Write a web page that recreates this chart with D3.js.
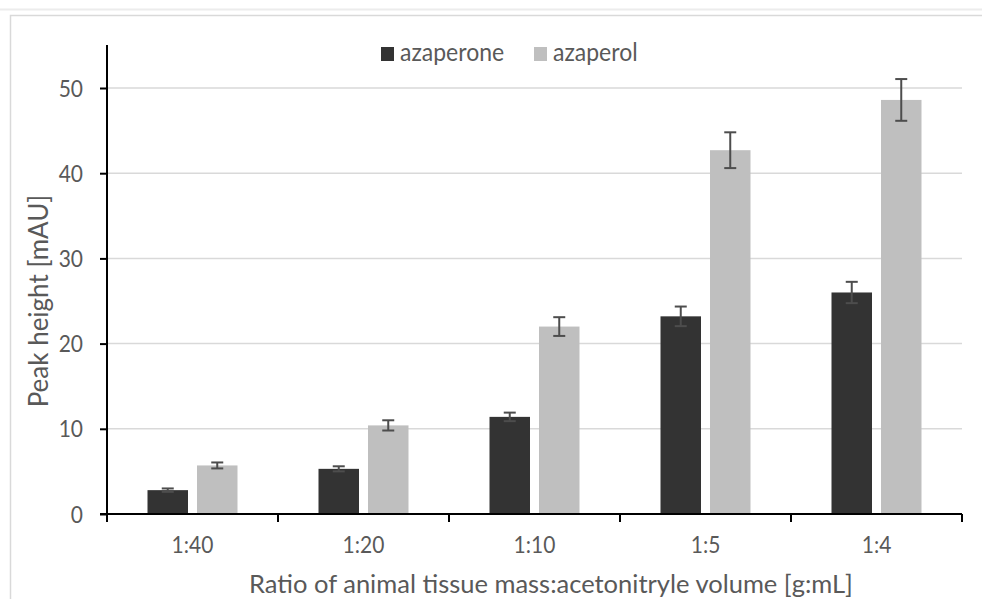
<!DOCTYPE html>
<html>
<head>
<meta charset="utf-8">
<script src="https://cdn.jsdelivr.net/npm/d3@7"></script>
<style>
  body { margin: 0; background: #fff; }
  text { font-family: Lato, "Open Sans", sans-serif; }
</style>
</head>
<body>
<script>
var categories = ['1:40', '1:20', '1:10', '1:5', '1:4'];
var seriesNames = ['azaperone', 'azaperol'];
var azaperone = [2.8, 5.3, 11.4, 23.2, 26.0];
var azaperoneErr = [0.2, 0.3, 0.5, 1.15, 1.25];
var azaperol = [5.7, 10.4, 22.0, 42.7, 48.6];
var azaperolErr = [0.35, 0.6, 1.1, 2.1, 2.45];
var yTicks = [0, 10, 20, 30, 40, 50];

var width = 982, height = 599;
var colors = ['#333333', '#bfbfbf'];
var textColor = '#595959';

var svg = d3.select('body').append('svg')
    .attr('width', width)
    .attr('height', height);

// outer frame
svg.append('line')
    .attr('x1', 0).attr('x2', width).attr('y1', 9.5).attr('y2', 9.5)
    .attr('stroke', '#ececec').attr('stroke-width', 2);
svg.append('rect')
    .attr('x', 10.5).attr('y', 15.5)
    .attr('width', width).attr('height', height)
    .attr('fill', 'none').attr('stroke', '#d9d9d9').attr('stroke-width', 1.5);

var x0 = d3.scaleBand().domain(categories).range([107, 962]);
var y = d3.scaleLinear().domain([0, 50]).range([514, 88]);

var barW = 40.5, gap = 9;

// gridlines
svg.append('g').selectAll('line')
    .data(yTicks.filter(d => d > 0))
    .enter().append('line')
    .attr('x1', 107).attr('x2', 962)
    .attr('y1', d => y(d)).attr('y2', d => y(d))
    .attr('stroke', '#d9d9d9').attr('stroke-width', 1.5);

var rows = categories.map((c, i) => ({
    cat: c,
    vals: [
        { s: 0, v: azaperone[i], e: azaperoneErr[i] },
        { s: 1, v: azaperol[i], e: azaperolErr[i] }
    ]
}));

var groups = svg.append('g').selectAll('g')
    .data(rows)
    .enter().append('g')
    .attr('transform', d => 'translate(' + (x0(d.cat) + x0.bandwidth() / 2) + ',0)');

function barX(s) {
    return s === 0 ? -(barW + gap / 2) : gap / 2;
}

groups.selectAll('rect')
    .data(d => d.vals)
    .enter().append('rect')
    .attr('x', d => barX(d.s))
    .attr('width', barW)
    .attr('y', d => y(d.v))
    .attr('height', d => y(0) - y(d.v))
    .attr('fill', d => colors[d.s]);

// error bars
var err = groups.selectAll('g.err')
    .data(d => d.vals)
    .enter().append('g')
    .attr('class', 'err')
    .attr('stroke', '#4d4d4d')
    .attr('stroke-width', 2);
err.append('line')
    .attr('x1', d => barX(d.s) + barW / 2).attr('x2', d => barX(d.s) + barW / 2)
    .attr('y1', d => y(d.v + d.e)).attr('y2', d => y(d.v - d.e));
err.append('line')
    .attr('x1', d => barX(d.s) + barW / 2 - 6).attr('x2', d => barX(d.s) + barW / 2 + 6)
    .attr('y1', d => y(d.v + d.e)).attr('y2', d => y(d.v + d.e));
err.append('line')
    .attr('x1', d => barX(d.s) + barW / 2 - 6).attr('x2', d => barX(d.s) + barW / 2 + 6)
    .attr('y1', d => y(d.v - d.e)).attr('y2', d => y(d.v - d.e));

// y axis
var yAxis = svg.append('g')
    .attr('transform', 'translate(107,0)')
    .call(d3.axisLeft(y).tickValues(yTicks).tickSize(7).tickFormat(''));
yAxis.select('.domain').remove();
yAxis.append('line')
    .attr('x1', 0).attr('x2', 0).attr('y1', 45).attr('y2', 514)
    .attr('stroke', '#000').attr('stroke-width', 2);
yAxis.selectAll('.tick line').attr('stroke', '#000').attr('stroke-width', 2);
// tick labels, slightly stretched vertically like the narrow original font
yAxis.selectAll('.tick').append('text')
    .attr('transform', 'translate(-24,8) scale(1,1.12)')
    .attr('text-anchor', 'end')
    .attr('fill', textColor)
    .style('font-size', '21px')
    .text(d => d);

// x axis
var xTickPos = categories.map(c => x0(c)).concat([x0.range()[1]]);
var xAxis = svg.append('g');
xAxis.append('line')
    .attr('x1', 100).attr('x2', 962).attr('y1', 514).attr('y2', 514)
    .attr('stroke', '#000').attr('stroke-width', 2);
xAxis.selectAll('line.tk')
    .data(xTickPos)
    .enter().append('line')
    .attr('class', 'tk')
    .attr('x1', d => d).attr('x2', d => d)
    .attr('y1', 514).attr('y2', 522)
    .attr('stroke', '#000').attr('stroke-width', 2);
xAxis.selectAll('text')
    .data(categories)
    .enter().append('text')
    .attr('transform', d => 'translate(' + (x0(d) + x0.bandwidth() / 2) + ',553) scale(1,1.12)')
    .attr('text-anchor', 'middle')
    .attr('fill', textColor)
    .style('font-size', '21px')
    .text(d => d);

// axis titles
svg.append('text')
    .attr('transform', 'translate(48,301) rotate(-90)')
    .attr('text-anchor', 'middle')
    .attr('fill', textColor)
    .style('font-size', '26px')
    .text('Peak height [mAU]');
svg.append('text')
    .attr('x', 551).attr('y', 593)
    .attr('text-anchor', 'middle')
    .attr('fill', textColor)
    .style('font-size', '25.5px')
    .text('Ratio of animal tissue mass:acetonitryle volume [g:mL]');

// legend
var legendX = [381, 534];
var legend = svg.append('g').selectAll('g')
    .data(seriesNames)
    .enter().append('g')
    .attr('transform', (d, i) => 'translate(' + legendX[i] + ',47)');
legend.append('rect')
    .attr('width', 13).attr('height', 14)
    .attr('fill', (d, i) => colors[i]);
legend.append('text')
    .attr('transform', 'translate(19,14) scale(1,1.08)')
    .attr('fill', textColor)
    .style('font-size', '23px')
    .text(d => d);
</script>
</body>
</html>
